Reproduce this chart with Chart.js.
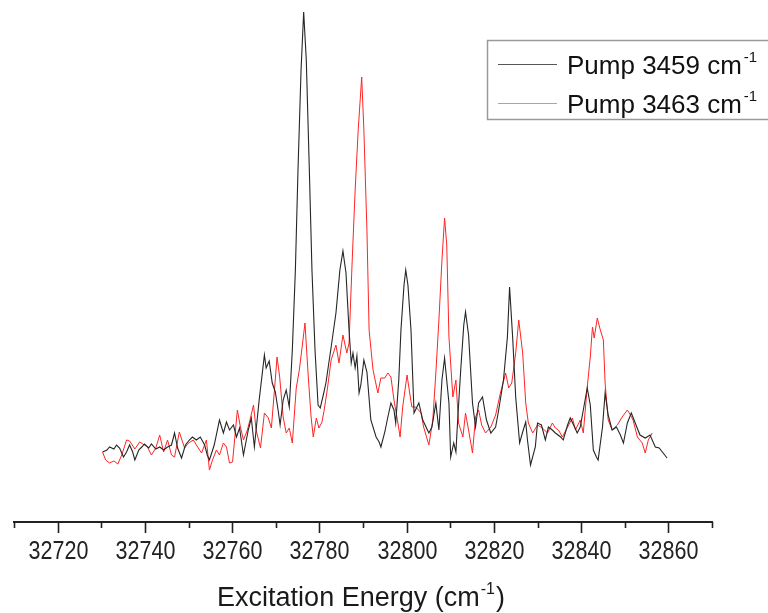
<!DOCTYPE html>
<html><head><meta charset="utf-8">
<script src="https://cdn.jsdelivr.net/npm/chart.js@4.4.1/dist/chart.umd.min.js"></script>
<style>html,body{margin:0;padding:0;background:#fff;}#wrap{width:768px;height:613px;}</style>
</head><body><div id="wrap"><canvas id="c" width="768" height="613"></canvas></div>
<script>
// Excitation energy (cm^-1) and signal (arb. units) for pump 3459 cm^-1
const energy3459 = [32730.3,32731.3,32731.9,32732.9,32733.5,32734.2,32735.1,32735.8,32736.5,32737.2,
32737.7,32738.6,32739.3,32739.9,32740.9,32741.5,32742.5,32743.4,32744.3,32745.2,
32746.1,32746.8,32747.5,32748.4,32749.3,32750.2,32750.9,32751.8,32752.7,32753.7,
32754.3,32754.8,32755.9,32757.1,32758.0,32758.7,32759.4,32760.3,32761.0,32761.7,
32762.6,32763.7,32764.4,32765.1,32766.2,32767.4,32767.8,32768.5,32769.2,32769.9,
32770.6,32771.0,32771.7,32772.4,32773.1,32773.8,32774.5,32775.1,32775.8,32776.4,
32777.0,32777.7,32778.3,32779.0,32779.7,32780.2,32780.9,32781.5,32782.7,32783.8,
32784.7,32785.4,32786.1,32786.8,32787.3,32787.7,32788.2,32788.6,32789.1,32789.5,
32790.2,32790.9,32791.8,32793.0,32793.7,32794.1,32795.0,32795.7,32796.4,32797.1,
32797.5,32798.2,32798.7,32799.4,32799.8,32800.3,32801.0,32801.7,32802.8,32803.7,
32805.1,32805.8,32806.7,32807.4,32808.1,32808.7,32809.7,32810.1,32810.8,32811.3,
32811.7,32812.4,32813.1,32813.5,32814.2,32815.1,32815.8,32816.5,32817.4,32818.3,
32819.3,32820.4,32821.1,32822.2,32823.1,32823.6,32824.3,32825.0,32825.9,32826.6,
32827.3,32827.7,32828.4,32829.5,32830.0,32830.9,32831.8,32832.5,32833.4,32834.1,
32835.3,32835.9,32836.9,32837.5,32838.5,32839.1,32839.8,32840.5,32841.4,32842.1,
32842.8,32843.5,32843.9,32844.9,32845.5,32846.2,32847.1,32848.1,32849.0,32849.7,
32850.6,32851.5,32852.4,32853.5,32854.7,32855.8,32857.0,32857.9,32858.8,32859.7];
const signal3459 = [70,72,75,73,77,74,65,70,77,70,
62,72,75,78,74,78,73,75,72,75,
77,89,74,64,77,82,85,82,85,77,
67,62,77,102,89,100,92,97,85,94,
67,92,104,75,122,167,154,161,139,130,
110,97,122,132,115,172,252,352,452,510,
462,352,252,172,117,114,127,139,175,209,
252,271,249,192,159,169,154,166,129,137,
162,150,102,85,80,75,90,105,119,112,
99,142,192,237,252,237,192,109,119,102,
89,95,119,92,142,164,119,65,79,70,
102,152,197,210,187,119,95,119,125,102,
89,95,112,142,185,235,185,125,79,90,
100,82,57,75,99,97,82,95,92,89,
85,82,97,104,95,89,95,112,134,117,
72,65,62,95,129,107,92,95,87,79,
99,109,99,87,84,87,75,74,69,64];

// Pump 3463 cm^-1
const energy3463 = [32730.3,32731.0,32731.9,32732.9,32733.8,32734.7,32735.8,32736.5,32737.7,32738.8,
32739.9,32740.6,32741.5,32742.5,32743.4,32744.3,32745.2,32746.1,32746.8,32747.9,
32749.1,32750.0,32751.1,32752.1,32753.0,32754.1,32754.8,32755.5,32756.4,32757.1,
32758.0,32758.7,32759.4,32760.1,32761.2,32761.9,32762.6,32763.5,32764.2,32764.9,
32765.5,32766.5,32767.4,32768.3,32769.0,32769.7,32770.3,32770.9,32771.7,32772.4,
32773.1,32773.8,32774.7,32775.4,32776.1,32776.7,32777.4,32778.1,32778.6,32779.3,
32779.9,32780.6,32781.1,32781.8,32782.7,32783.8,32784.5,32785.4,32786.3,32786.8,
32787.5,32788.2,32788.9,32789.7,32790.2,32790.9,32791.4,32792.3,32793.4,32794.1,
32795.0,32795.7,32796.4,32797.1,32798.0,32798.5,32799.1,32800.1,32800.7,32801.2,
32802.1,32803.3,32803.9,32805.1,32806.0,32806.7,32807.4,32808.1,32808.7,32809.2,
32809.7,32810.6,32811.3,32811.9,32812.9,32813.5,32814.2,32815.1,32815.8,32816.5,
32817.2,32818.1,32819.3,32820.4,32821.5,32822.7,32823.4,32824.1,32825.0,32825.7,
32826.6,32827.3,32827.9,32828.9,32830.0,32831.1,32832.3,32833.4,32834.1,32834.8,
32835.7,32836.9,32838.0,32838.7,32839.8,32840.5,32841.4,32842.1,32842.6,32843.0,
32843.7,32844.4,32845.1,32845.5,32846.2,32847.1,32848.3,32849.4,32850.6,32851.3,
32851.9,32852.9,32854.0,32854.7,32855.4,32856.3];
const signal3463 = [70,62,59,61,58,67,82,81,73,80,
77,75,67,74,87,70,82,67,65,90,
74,79,82,75,69,82,52,62,72,67,
79,75,59,60,112,95,82,92,104,117,
92,74,109,104,94,132,165,145,105,89,
94,79,134,152,177,199,149,105,85,104,
94,100,112,132,162,177,159,187,169,179,
259,332,392,445,392,292,192,152,129,144,
144,149,145,122,99,85,115,147,129,115,
115,109,95,77,102,149,202,262,304,277,
185,125,142,99,85,109,92,69,105,112,
97,89,95,107,129,149,134,139,169,202,
169,119,99,89,97,94,89,99,94,92,
85,95,104,92,102,89,135,165,195,184,
204,192,182,139,102,92,97,105,112,107,
102,85,79,69,82,89];

const seriesLabels = ['Pump 3459 cm', 'Pump 3463 cm'];
const superscript = '-1';
const axisTitle = ['Excitation Energy (cm', ')'];
const xMin = 32710, xMax = 32870, majorStep = 20, minorStep = 10;

const seriesColors = ['#262626', '#ff2424'];
const legendColors = ['#555555', '#ff8080'];

function pairs(xs, ys) { return xs.map((x, i) => ({x: x, y: ys[i]})); }

const decor = {
  id: 'decor',
  afterDraw(chart) {
    const ctx = chart.ctx;
    const xs = chart.scales.x;
    ctx.save();
    // tick marks and condensed tick labels
    ctx.strokeStyle = '#222';
    ctx.lineWidth = 1.6;
    ctx.fillStyle = '#222';
    ctx.textAlign = 'center';
    ctx.textBaseline = 'alphabetic';
    ctx.font = "25px 'Liberation Sans', Arial, sans-serif";
    xs.ticks.forEach((t) => {
      const v = t.value;
      const px = Math.round(xs.getPixelForValue(v)) + 0.5;
      const major = (v % majorStep === 0);
      ctx.beginPath();
      ctx.moveTo(px, xs.top);
      ctx.lineTo(px, xs.top + (major ? 11 : 6));
      ctx.stroke();
      if (major) {
        ctx.save();
        ctx.translate(px, xs.top + 37);
        ctx.scale(0.86, 1);
        ctx.fillText(String(v), 0, 0);
        ctx.restore();
      }
    });
    // axis title with superscript
    ctx.fillStyle = '#1a1a1a';
    ctx.textAlign = 'left';
    const mainFont = "27px 'Liberation Sans', Arial, sans-serif";
    const supFont = "16px 'Liberation Sans', Arial, sans-serif";
    ctx.font = mainFont;
    const w1 = ctx.measureText(axisTitle[0]).width;
    const w3 = ctx.measureText(axisTitle[1]).width;
    ctx.font = supFont;
    const w2 = ctx.measureText(superscript).width;
    const total = w1 + w2 + w3 + 2;
    let tx = 361 - total / 2;
    const ty = 606;
    ctx.font = mainFont; ctx.fillText(axisTitle[0], tx, ty); tx += w1 + 1;
    ctx.font = supFont; ctx.fillText(superscript, tx, ty - 12); tx += w2 + 1;
    ctx.font = mainFont; ctx.fillText(axisTitle[1], tx, ty);
    // legend box
    ctx.strokeStyle = '#9a9a9a';
    ctx.lineWidth = 1.5;
    ctx.strokeRect(487.5, 40.5, 320, 79);
    const rowsY = [64, 103];
    const legFont = "26px 'Liberation Sans', Arial, sans-serif";
    const legSup = "15px 'Liberation Sans', Arial, sans-serif";
    chart.data.datasets.forEach((ds, i) => {
      const y = rowsY[i];
      ctx.strokeStyle = legendColors[i];
      ctx.lineWidth = 1;
      ctx.beginPath();
      ctx.moveTo(498, y + 0.5);
      ctx.lineTo(557, y + 0.5);
      ctx.stroke();
      ctx.fillStyle = '#111';
      ctx.font = legFont;
      const base = y + 9.5;
      ctx.fillText(ds.label, 567, base);
      const w = ctx.measureText(ds.label).width;
      ctx.font = legSup;
      ctx.fillText(superscript, 567 + w + 2, base - 12);
    });
    ctx.restore();
  }
};

new Chart(document.getElementById('c'), {
  type: 'line',
  data: {
    datasets: [
      { label: seriesLabels[0], data: pairs(energy3459, signal3459), borderColor: seriesColors[0], borderWidth: 1.1, pointRadius: 0, tension: 0, fill: false },
      { label: seriesLabels[1], data: pairs(energy3463, signal3463), borderColor: seriesColors[1], borderWidth: 1.0, pointRadius: 0, tension: 0, fill: false }
    ]
  },
  options: {
    responsive: false,
    animation: false,
    devicePixelRatio: 1,
    layout: { padding: { left: 12, right: 56, top: 10, bottom: 0 } },
    plugins: { legend: { display: false }, tooltip: { enabled: false } },
    scales: {
      x: {
        type: 'linear', min: xMin, max: xMax,
        afterFit(s) { s.height = 91; },
        border: { display: true, color: '#222', width: 2 },
        grid: { display: true, drawOnChartArea: false, drawTicks: false },
        ticks: {
          stepSize: minorStep, autoSkip: false, maxRotation: 0, padding: 14,
          color: 'rgba(0,0,0,0)',
          font: { family: "'Liberation Sans', Arial, sans-serif", size: 22 },
          callback: (v) => (v % majorStep === 0 ? String(v) : '')
        }
      },
      y: { display: false, min: 0, max: 512 }
    }
  },
  plugins: [decor]
});
</script>
</body></html>
